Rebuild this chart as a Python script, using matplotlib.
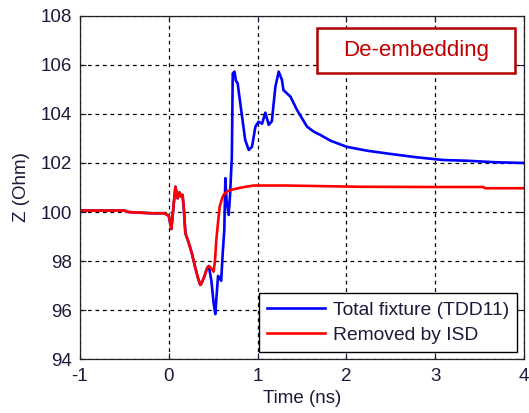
import matplotlib
matplotlib.use("Agg")
import matplotlib.pyplot as plt
from matplotlib.patches import Rectangle

plt.rcParams["font.family"] = ["Liberation Sans", "DejaVu Sans"]
plt.rcParams["axes.unicode_minus"] = False

# time axis (ns) and impedance (Ohm)
t_removed = [-1.0, -0.5, -0.45, -0.2, -0.05, 0.0, 0.03, 0.055, 0.075, 0.10,
             0.12, 0.138, 0.155, 0.168, 0.187, 0.22, 0.26, 0.30, 0.33, 0.355,
             0.37, 0.40, 0.43, 0.45, 0.48, 0.505, 0.52, 0.535, 0.555, 0.573,
             0.60, 0.618, 0.66, 0.73, 0.85, 0.955, 1.33, 2.15, 3.0, 3.54,
             3.56, 4.0]
z_removed = [100.06, 100.06, 100.0, 99.95, 99.95, 99.85, 99.31, 100.3, 101.03, 100.56,
             100.8, 100.63, 100.7, 100.22, 99.14, 98.8, 98.32, 97.71, 97.3, 97.03,
             97.1, 97.37, 97.7, 97.8, 97.7, 97.57, 98.0, 98.86, 99.6, 100.22,
             100.55, 100.70, 100.85, 100.93, 101.02, 101.08, 101.08, 101.03, 101.02, 101.02,
             100.97, 100.97]

t_total = [-1.0, -0.5, -0.45, -0.2, -0.05, 0.0, 0.03, 0.055, 0.075, 0.10,
           0.12, 0.138, 0.155, 0.168, 0.187, 0.22, 0.26, 0.30, 0.33, 0.355,
           0.37, 0.40, 0.43, 0.45, 0.48, 0.505, 0.524, 0.54, 0.555, 0.573,
           0.59, 0.607, 0.625, 0.637, 0.65, 0.674, 0.69, 0.71, 0.715, 0.72,
           0.74, 0.755, 0.775, 0.805, 0.86, 0.9, 0.937, 0.975, 1.01, 1.05,
           1.087, 1.125, 1.16, 1.2, 1.237, 1.274, 1.29, 1.37, 1.443, 1.556,
           1.63, 1.706, 1.818, 2.0, 2.23, 2.49, 2.79, 3.09, 3.36, 3.67, 4.0]
z_total = [100.06, 100.06, 100.0, 99.95, 99.95, 99.85, 99.31, 100.3, 101.03, 100.56,
           100.8, 100.63, 100.7, 100.22, 99.14, 98.8, 98.32, 97.71, 97.3, 97.03,
           97.1, 97.37, 97.7, 97.8, 97.2, 96.28, 95.84, 96.69, 97.4, 97.30,
           97.2, 98.32, 99.27, 101.38, 100.5, 99.88, 100.7, 102.26, 103.9, 105.65,
           105.72, 105.35, 105.25, 104.43, 102.94, 102.53, 102.66, 103.48, 103.68, 103.6,
           104.05, 103.55, 103.7, 105.11, 105.72, 105.38, 104.97, 104.70, 104.16, 103.48,
           103.28, 103.14, 102.91, 102.66, 102.50, 102.37, 102.23, 102.12, 102.09, 102.03, 102.0]

x_ticks = [-1, 0, 1, 2, 3, 4]
y_ticks = [94, 96, 98, 100, 102, 104, 106, 108]

text_color = "#1a1a3a"

fig = plt.figure(figsize=(5.29, 4.13), dpi=100)
ax = fig.add_axes([0.151, 0.130, 0.840, 0.832])

ax.plot(t_total, z_total, color="#0000ff", linewidth=1.9, label="Total fixture (TDD11)")
ax.plot(t_removed, z_removed, color="#ff0000", linewidth=1.9, label="Removed by ISD")

ax.set_xlim(-1, 4)
ax.set_ylim(94, 108)
ax.set_xticks(x_ticks)
ax.set_yticks(y_ticks)
ax.tick_params(direction="in", length=4, width=0.8, labelsize=13.5,
               colors=text_color, pad=6, top=True, right=True)
ax.grid(True, color="black", linestyle=(0, (3, 3)), linewidth=0.9)
for s in ax.spines.values():
    s.set_color("#222222")
    s.set_linewidth(0.9)

ax.set_xlabel("Time (ns)", fontsize=13.5, color=text_color, labelpad=4)
ax.set_ylabel("Z (Ohm)", fontsize=13.5, color=text_color, labelpad=7)

leg = ax.legend(loc="lower right", fontsize=13.9, handlelength=3.0,
                handletextpad=0.4, fancybox=False, framealpha=1,
                edgecolor="black", borderaxespad=0.4, labelspacing=0.4)
leg.get_frame().set_linewidth(1.0)
for txt in leg.get_texts():
    txt.set_color(text_color)

# "De-embedding" box in the top right corner
ax.add_patch(Rectangle((0.533, 0.834), 0.447, 0.131, transform=ax.transAxes,
                       facecolor="white", edgecolor="#b00000", linewidth=1.8,
                       zorder=5))
ax.text(0.7565, 0.900, "De-embedding", transform=ax.transAxes, ha="center",
        va="center", fontsize=16, color="#c00000", zorder=6)

fig.savefig("out.png", dpi=100)
plt.close(fig)
